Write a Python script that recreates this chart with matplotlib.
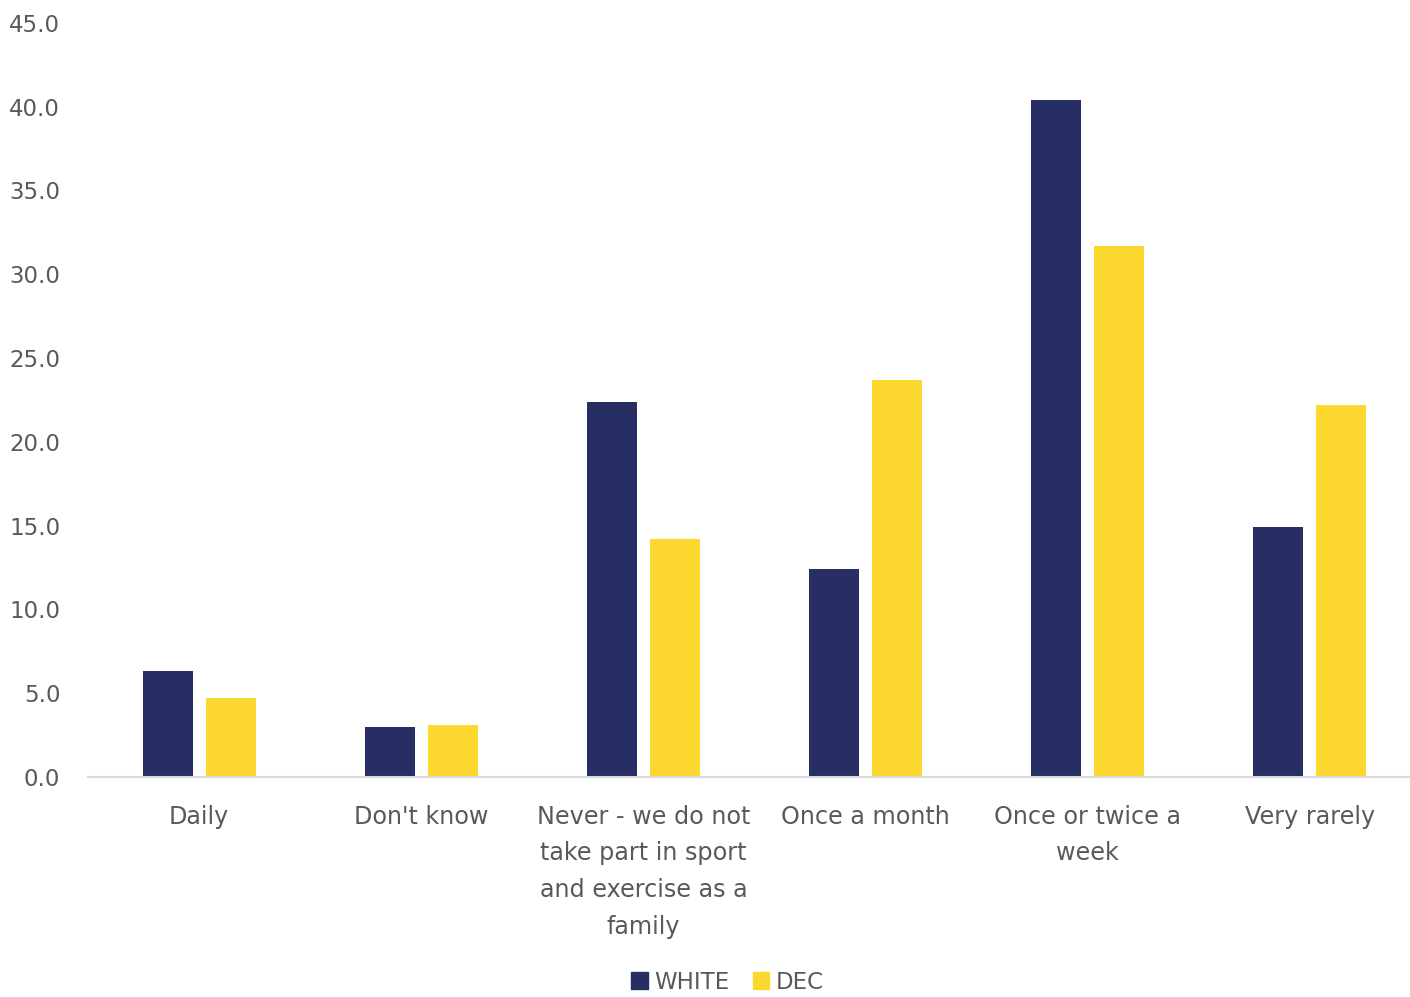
import matplotlib
matplotlib.use("Agg")
import matplotlib.pyplot as plt
import numpy as np
from matplotlib.patches import Patch

categories = ["Daily", "Don't know",
              "Never - we do not\ntake part in sport\nand exercise as a\nfamily",
              "Once a month", "Once or twice a\nweek", "Very rarely"]
white_vals = [6.3, 3.0, 22.4, 12.4, 40.4, 14.9]
dec_vals = [4.7, 3.1, 14.2, 23.7, 31.7, 22.2]
series_names = ["WHITE", "DEC"]
yticks = [0, 5, 10, 15, 20, 25, 30, 35, 40, 45]

NAVY = "#262E63"
YELLOW = "#FCD72D"
TEXT = "#595959"

plt.rcParams['font.family'] = ['DejaVu Sans']

fig = plt.figure(figsize=(14.1, 9.97), dpi=100)
ax = fig.add_axes([88 / 1410, 0.2207, 1333 / 1410, 0.7563])

x = np.arange(len(categories))
w = 0.225
off = 0.142
ax.bar(x - off, white_vals, width=w, color=NAVY, label=series_names[0])
ax.bar(x + off, dec_vals, width=w, color=YELLOW, label=series_names[1])

ax.set_xlim(-0.5, len(categories) - 0.5)
ax.set_ylim(0, 45)
ax.set_yticks(yticks)
ax.set_yticklabels([f"{v:.1f}" for v in yticks], fontsize=16.5)
ax.set_xticks(x)
ax.set_xticklabels(categories, linespacing=1.67, va='top', fontsize=17.2)

for s in ['top', 'right', 'left']:
    ax.spines[s].set_visible(False)
ax.spines['bottom'].set_color('#D9D9D9')
ax.spines['bottom'].set_linewidth(1.5)

ax.tick_params(axis='both', length=0, labelcolor=TEXT)
ax.tick_params(axis='x', pad=20)
ax.tick_params(axis='y', pad=20)

handles = [Patch(color=NAVY), Patch(color=YELLOW)]
fig.legend(handles, series_names, loc='center', bbox_to_anchor=(0.516, 0.015),
           ncol=2, frameon=False, fontsize=16.5, labelcolor=TEXT,
           handlelength=0.72, handleheight=0.72, handletextpad=0.3, columnspacing=1.0)

fig.savefig("out.png", dpi=100, facecolor='white')
